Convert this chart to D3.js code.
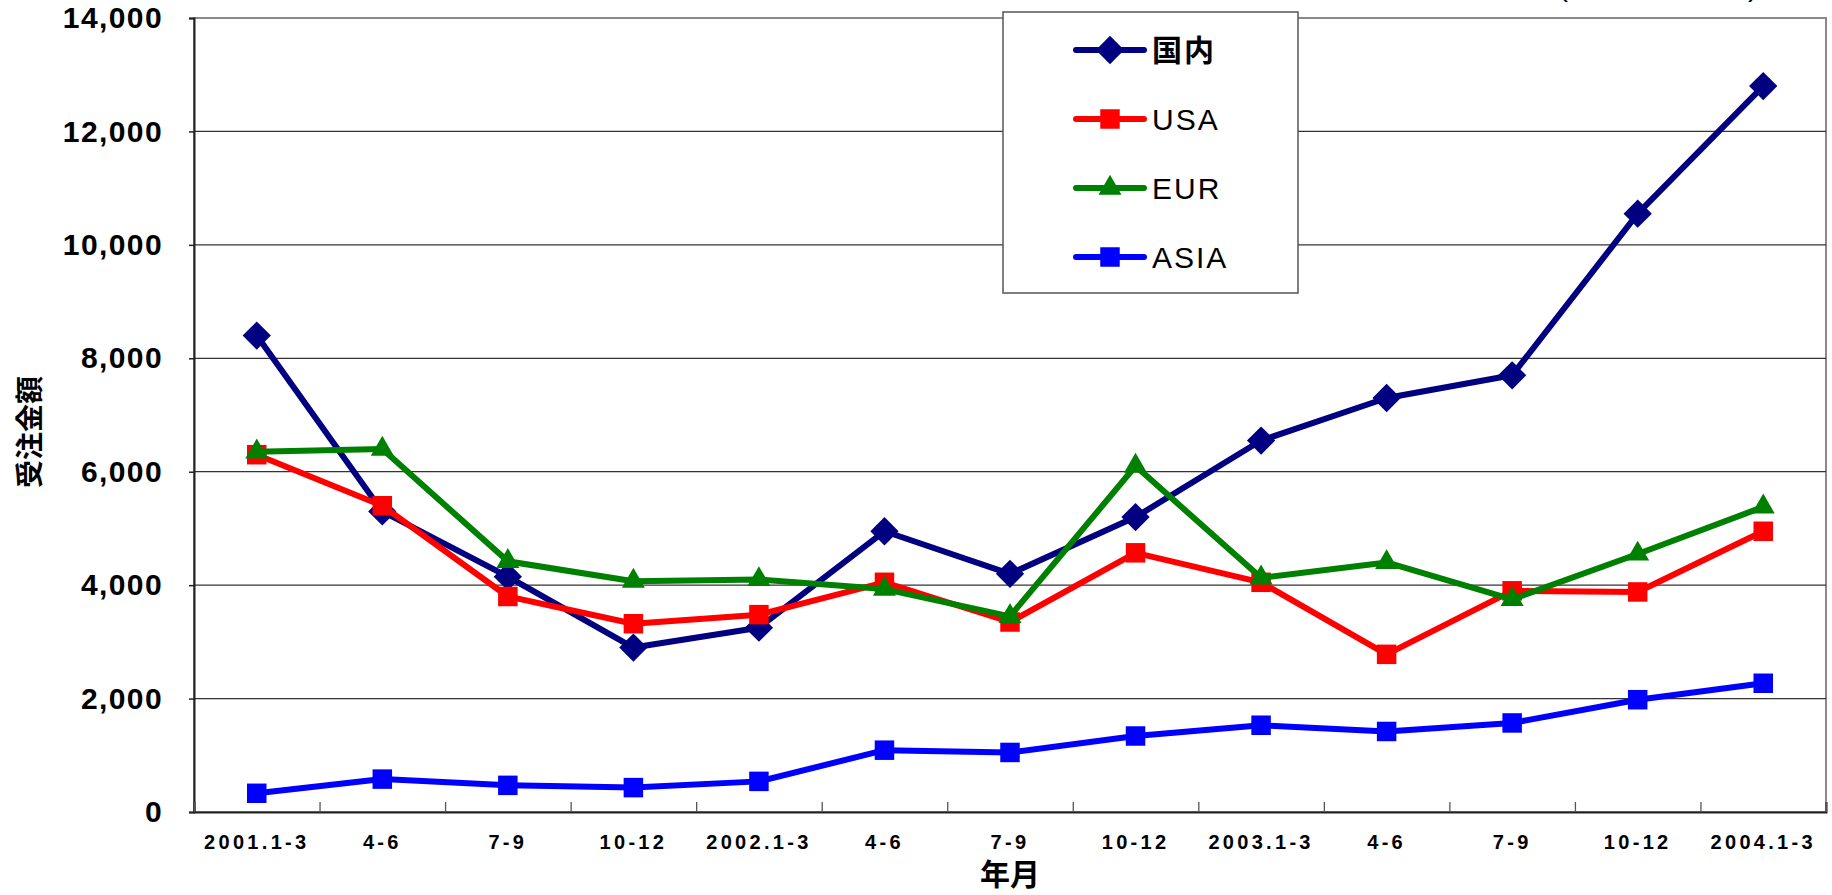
<!DOCTYPE html>
<html>
<head>
<meta charset="utf-8">
<script src="https://cdn.jsdelivr.net/npm/d3@7"></script>
<style>
  body { margin: 0; background: #fff; }
  svg { display: block; }
</style>
</head>
<body>
<svg id="chart" width="1832" height="895"></svg>
<script>
const categories = ["2001.1-3", "4-6", "7-9", "10-12", "2002.1-3", "4-6", "7-9", "10-12", "2003.1-3", "4-6", "7-9", "10-12", "2004.1-3"];
const domestic = [8400, 5300, 4150, 2900, 3250, 4950, 4200, 5200, 6550, 7300, 7700, 10550, 12800];
const usa = [6300, 5400, 3800, 3320, 3480, 4050, 3350, 4570, 4050, 2780, 3900, 3880, 4950];
const eur = [6350, 6400, 4420, 4070, 4100, 3930, 3450, 6100, 4130, 4400, 3750, 4550, 5380];
const asia = [330, 580, 470, 430, 540, 1090, 1050, 1340, 1530, 1420, 1570, 1980, 2270];
const yTicks = [0, 2000, 4000, 6000, 8000, 10000, 12000, 14000];

const series = [
  { name: "国内", values: domestic, color: "#000080", marker: "diamond" },
  { name: "USA", values: usa, color: "#ff0000", marker: "square" },
  { name: "EUR", values: eur, color: "#008000", marker: "triangle" },
  { name: "ASIA", values: asia, color: "#0000ff", marker: "square" }
];

const svg = d3.select('#chart');
const plotLeft = 194, plotRight = 1826, plotTop = 18, plotBottom = 812;

const xScale = d3.scaleBand().domain(d3.range(categories.length)).range([plotLeft, plotRight]);
const edgeScale = d3.scaleLinear().domain([0, categories.length]).range([plotLeft, plotRight]);
const yScale = d3.scaleLinear().domain([0, 14000]).range([plotBottom, plotTop]);

// frame + grid
svg.append('rect')
  .attr('x', plotLeft).attr('y', plotTop)
  .attr('width', plotRight - plotLeft).attr('height', plotBottom - plotTop)
  .attr('fill', 'none').attr('stroke', '#8a8a8a').attr('stroke-width', 2);

svg.append('g').selectAll('line')
  .data(yTicks.filter(d => d > 0 && d < 14000))
  .join('line')
  .attr('x1', plotLeft).attr('x2', plotRight)
  .attr('y1', d => yScale(d)).attr('y2', d => yScale(d))
  .attr('stroke', '#333').attr('stroke-width', 1.3);

// y axis
const yAxis = d3.axisLeft(yScale).tickValues(yTicks).tickSize(5).tickPadding(26).tickFormat(d3.format(','));
const gy = svg.append('g').attr('transform', `translate(${plotLeft},0)`).call(yAxis);
gy.select('.domain').attr('stroke', '#222').attr('stroke-width', 2);
gy.selectAll('.tick line').attr('stroke', '#222').attr('stroke-width', 1.5);
gy.selectAll('.tick text')
  .attr('font-family', '"Liberation Sans", Arial, sans-serif')
  .attr('font-weight', 'bold').attr('font-size', 30)
  .attr('letter-spacing', 1.4).attr('fill', '#000');

// x axis: tick marks between categories (inside), labels centred
const xEdge = d3.axisTop(edgeScale).tickValues(d3.range(categories.length + 1)).tickSize(10).tickFormat('');
const gxe = svg.append('g').attr('transform', `translate(0,${plotBottom})`).call(xEdge);
gxe.select('.domain').attr('stroke', '#222').attr('stroke-width', 2);
gxe.selectAll('.tick line').attr('stroke', '#555').attr('stroke-width', 1.3);

const xAxis = d3.axisBottom(xScale).tickSize(0).tickPadding(23).tickFormat(i => categories[i]);
const gx = svg.append('g').attr('transform', `translate(0,${plotBottom})`).call(xAxis);
gx.select('.domain').remove();
gx.selectAll('.tick text')
  .attr('font-family', '"Liberation Sans", Arial, sans-serif')
  .attr('font-weight', 'bold').attr('font-size', 20)
  .attr('letter-spacing', 3.3).attr('fill', '#000');

// axis titles
svg.append('text')
  .attr('x', (plotLeft + plotRight) / 2).attr('y', 885)
  .attr('text-anchor', 'middle')
  .attr('font-family', '"Noto Sans CJK JP", sans-serif')
  .attr('font-weight', 'bold').attr('font-size', 30)
  .text('年月');

svg.append('text')
  .attr('transform', 'translate(40,432) rotate(-90)')
  .attr('text-anchor', 'middle')
  .attr('font-family', '"Noto Sans CJK JP", sans-serif')
  .attr('font-weight', 'bold').attr('font-size', 28)
  .text('受注金額');

// unit label, mostly cut off at the top edge as in the source picture
svg.append('text')
  .attr('x', 1558).attr('y', -4)
  .attr('font-family', '"Liberation Sans", "Noto Sans CJK JP", sans-serif')
  .attr('font-size', 30)
  .text('(単位：百万円)');

function markerPath (type) {
  if (type === 'diamond') return d3.symbol().type(d3.symbolSquare).size(400)();
  if (type === 'triangle') return d3.symbol().type(d3.symbolTriangle).size(230)();
  return d3.symbol().type(d3.symbolSquare).size(380)();
}
function markerTransform (type, x, y) {
  return type === 'diamond' ? `translate(${x},${y}) rotate(45)` : `translate(${x},${y})`;
}

const line = d3.line()
  .x((d, i) => xScale(i) + xScale.bandwidth() / 2)
  .y(d => yScale(d));

series.forEach(s => {
  const g = svg.append('g');
  g.append('path')
    .attr('d', line(s.values))
    .attr('fill', 'none')
    .attr('stroke', s.color)
    .attr('stroke-width', 6)
    .attr('stroke-linejoin', 'round');
  g.selectAll('path.mark')
    .data(s.values)
    .join('path')
    .attr('class', 'mark')
    .attr('d', markerPath(s.marker))
    .attr('transform', (d, i) => markerTransform(s.marker, xScale(i) + xScale.bandwidth() / 2, yScale(d)))
    .attr('fill', s.color);
});

// legend
const legend = svg.append('g');
legend.append('rect')
  .attr('x', 1003).attr('y', 12)
  .attr('width', 295).attr('height', 281)
  .attr('fill', '#fff').attr('stroke', '#555').attr('stroke-width', 1.5);

const rows = legend.selectAll('g.row')
  .data(series)
  .join('g')
  .attr('class', 'row')
  .attr('transform', (d, i) => `translate(0,${50 + i * 69})`);

rows.append('line')
  .attr('x1', 1076).attr('x2', 1144)
  .attr('stroke', d => d.color).attr('stroke-width', 6).attr('stroke-linecap', 'round');
rows.append('path')
  .attr('d', d => markerPath(d.marker))
  .attr('transform', d => markerTransform(d.marker, 1110, 0))
  .attr('fill', d => d.color);
rows.append('text')
  .attr('x', 1152).attr('y', 11)
  .attr('font-family', d => d.name === '国内' ? '"Noto Sans CJK JP", sans-serif' : '"Liberation Sans", Arial, sans-serif')
  .attr('font-weight', d => d.name === '国内' ? 'bold' : 'normal')
  .attr('font-size', 30)
  .attr('letter-spacing', 2)
  .text(d => d.name);
</script>
</body>
</html>
